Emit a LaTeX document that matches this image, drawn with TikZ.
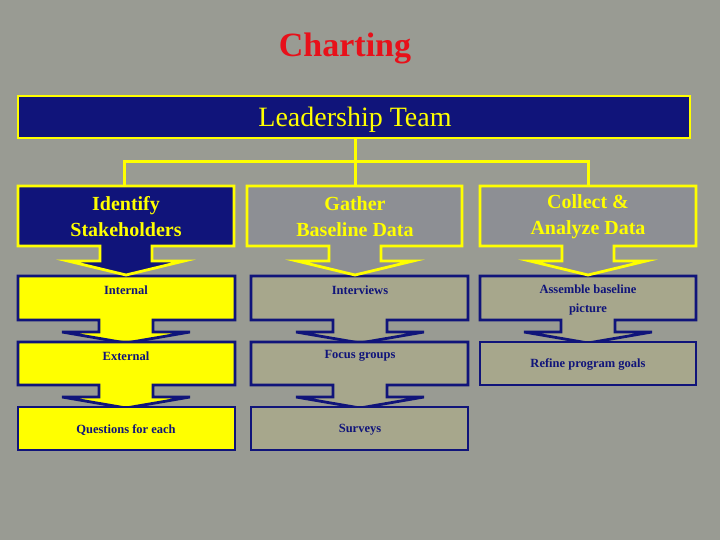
\documentclass[tikz,border=0pt]{standalone}
\usepackage{fontspec}
\setmainfont{Liberation Serif}
\definecolor{bg}{HTML}{999B93}
\definecolor{navy}{HTML}{10147A}
\definecolor{ylw}{HTML}{FFFF00}
\definecolor{gbox}{HTML}{8D8F94}
\definecolor{obox}{HTML}{A7A78C}
\definecolor{ttl}{HTML}{E8101A}
% #1 x1, #2 x2, #3 y1, #4 y2, #5 cx, #6 stem half, #7 head half, #8 head y, #9 tip y
\newcommand\callbox[9]{%
  (#1,#3)--(#2,#3)--(#2,#4)--(#5+#6,#4)--(#5+#6,#8)--(#5+#7,#8)--(#5,#9)--(#5-#7,#8)--(#5-#6,#8)--(#5-#6,#4)--(#1,#4)--cycle}
\begin{document}
\begin{tikzpicture}[x=1pt,y=-1pt,
  navybox/.style={fill=navy,draw=ylw,line width=2.8pt,line join=miter},
  graybox/.style={fill=gbox,draw=ylw,line width=2.8pt,line join=miter},
  ylwbox/.style={fill=ylw,draw=navy,line width=2.8pt,line join=miter},
  olvbox/.style={fill=obox,draw=navy,line width=2.8pt,line join=miter},
  big/.style={text=ylw,font=\bfseries\fontsize{20}{26}\selectfont,align=center},
  small/.style={text=navy,font=\bfseries\fontsize{12.5}{16}\selectfont,align=center}]
\fill[bg] (0,0) rectangle (720,540);
\useasboundingbox (0,0) rectangle (720,540);
\node[text=ttl,font=\bfseries\fontsize{34}{40}\selectfont] (title) at (345,48) {Charting};
% connector
\coordinate (lt) at (355,138);
\coordinate (j) at (355,162);
\coordinate (l) at (124,162);
\coordinate (r) at (588,162);
\coordinate (c1) at (124,186);
\coordinate (c2) at (355,186);
\coordinate (c3) at (588,186);
\draw[ylw,line width=3pt] (lt)--(j);
\draw[ylw,line width=3pt] (c1)--(l)--(r)--(c3);
\draw[ylw,line width=3pt] (j)--(c2);
% leader
\draw[navybox] (18,96) rectangle (690,138);
\node[text=ylw,font=\fontsize{28}{32}\selectfont] (lead) at (355,120) {Leadership Team};
% rows 2-4 col1
\draw[ylwbox] \callbox{18}{235}{276}{320}{126}{27}{64}{332}{343};
\draw[ylwbox] \callbox{18}{235}{342}{385}{126}{27}{64}{397}{408};
\draw[ylwbox] (18,407) rectangle (235,450);
% col2
\draw[olvbox] \callbox{251}{468}{276}{320}{360}{27}{64}{332}{343};
\draw[olvbox] \callbox{251}{468}{342}{385}{360}{27}{64}{397}{408};
\draw[olvbox] (251,407) rectangle (468,450);
% col3
\draw[olvbox] \callbox{480}{696}{276}{320}{588}{27}{64}{332}{343};
\draw[olvbox] (480,342) rectangle (696,385);
% top boxes
\draw[navybox] \callbox{18}{234}{186}{246}{126}{26}{58}{261}{275};
\draw[graybox] \callbox{247}{462}{186}{246}{355}{26}{58}{261}{275};
\draw[graybox] \callbox{480}{696}{186}{246}{588}{26}{58}{261}{275};
\node[big] (t1) at (126,217) {Identify\\Stakeholders};
\node[big] (t2) at (355,217) {Gather\\Baseline Data};
\node[big] (t3) at (588,217) {Collect \&\\Analyze Data};
\node[small] (a1) at (126,290) {Internal};
\node[small] (a2) at (126,356) {External};
\node[small] (a3) at (126,430) {Questions for each};
\node[small] (b1) at (360,290) {Interviews};
\node[small] (b2) at (360,356) {Focus groups};
\node[small] (b3) at (360,430) {Surveys};
\node[small,font=\bfseries\fontsize{12.5}{19}\selectfont] (d1) at (588,300) {Assemble baseline\\picture};
\node[small] (d2) at (588,364) {Refine program goals};
\end{tikzpicture}
\end{document}
